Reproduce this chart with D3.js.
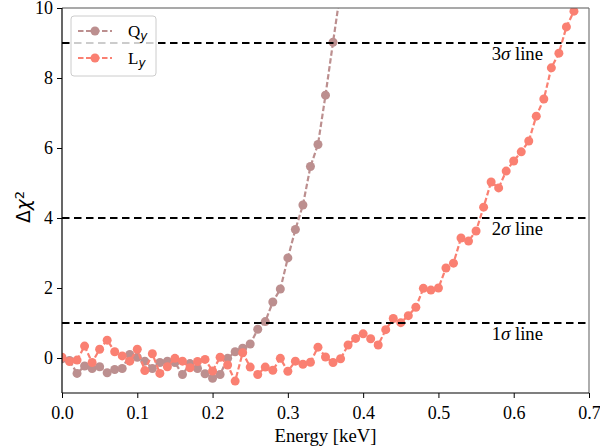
<!DOCTYPE html>
<html>
<head>
<meta charset="utf-8">
<script src="https://cdn.jsdelivr.net/npm/d3@7"></script>
<style>
  body { margin: 0; background: #fff; }
  svg { display: block; }
  .serif { font-family: "Liberation Serif", "Times New Roman", "DejaVu Serif", serif; font-size: 18.7px; }
  .sans { font-family: "DejaVu Sans", sans-serif; }
</style>
</head>
<body>
<svg width="600" height="447"></svg>
<script>
// Datos (energía en keV, Δχ²)
const energiaQ = d3.range(0, 38).map(i => +(i * 0.01).toFixed(2));
const chiQ = [
  -0.02, -0.07, -0.44, -0.23, -0.30, -0.25, -0.42, -0.33, -0.30, 0.10,
  0.02, -0.09, -0.30, -0.13, -0.09, -0.13, -0.47, -0.16, -0.30, -0.45,
  -0.58, -0.47, -0.01, 0.18, 0.28, 0.40, 0.82, 1.04, 1.60, 1.97,
  2.86, 3.67, 4.37, 5.47, 6.10, 7.51, 9.02, 10.50
];

const energiaL = d3.range(0, 69).map(i => +(i * 0.01).toFixed(2));
const chiL = [
  0.02, -0.10, -0.06, 0.34, -0.13, 0.25, 0.51, 0.18, 0.06, -0.09,
  0.25, -0.36, 0.12, -0.44, -0.25, -0.01, -0.09, -0.28, -0.10, -0.04,
  -0.37, 0.02, -0.20, -0.66, 0.15, -0.26, -0.47, -0.26, -0.35, -0.01,
  -0.38, -0.09, -0.18, -0.12, 0.31, 0.03, -0.13, -0.02, 0.37, 0.56,
  0.69, 0.55, 0.37, 0.81, 1.13, 1.01, 1.21, 1.45, 1.99, 1.94,
  2.00, 2.57, 2.71, 3.43, 3.34, 3.63, 4.31, 5.03, 4.86, 5.34,
  5.63, 5.89, 6.20, 6.91, 7.40, 8.29, 8.71, 9.46, 9.91
];

const xTicks = [0, 0.1, 0.2, 0.3, 0.4, 0.5, 0.6, 0.7];
const yTicks = [0, 2, 4, 6, 8, 10];
const sigmaNiveles = [1, 4, 9];
const sigmaEtiquetas = ["1", "2", "3"];

const series = [
  { nombre: "Q", x: energiaQ, y: chiQ, color: "#bc8f8f" },
  { nombre: "L", x: energiaL, y: chiL, color: "#fa8072" }
];

const svg = d3.select("svg");

const x = d3.scaleLinear().domain([0, 0.7]).range([62, 589]);
const y = d3.scaleLinear().domain([-1, 10]).range([393, 8]);

// Recorte del área de trazado
svg.append("defs").append("clipPath").attr("id", "area")
  .append("rect")
  .attr("x", x(0)).attr("y", y(10))
  .attr("width", x(0.7) - x(0)).attr("height", y(-1) - y(10));

const plot = svg.append("g").attr("clip-path", "url(#area)");

const linea = d3.line().x(d => x(d[0])).y(d => y(d[1]));

series.forEach(s => {
  const pts = s.x.map((e, i) => [e, s.y[i]]);
  plot.append("path")
    .datum(pts)
    .attr("d", linea)
    .attr("fill", "none")
    .attr("stroke", s.color)
    .attr("stroke-width", 2.2)
    .attr("stroke-dasharray", "5.5,2.5");
  plot.selectAll(null)
    .data(pts)
    .enter()
    .append("circle")
    .attr("cx", d => x(d[0]))
    .attr("cy", d => y(d[1]))
    .attr("r", 4.5)
    .attr("fill", s.color);
});

// Líneas de 1, 2 y 3 sigma
plot.selectAll(".sigma")
  .data(sigmaNiveles)
  .enter()
  .append("line")
  .attr("x1", x(0)).attr("x2", x(0.7))
  .attr("y1", d => y(d)).attr("y2", d => y(d))
  .attr("stroke", "#000")
  .attr("stroke-width", 2)
  .attr("stroke-dasharray", "7.5,4.5");

const etiquetas = svg.selectAll(".sigmaText")
  .data(sigmaNiveles)
  .enter()
  .append("text")
  .attr("class", "serif")
  .attr("x", 543)
  .attr("y", d => y(d) + 17)
  .attr("text-anchor", "end")
  .attr("fill", "#000");
etiquetas.append("tspan").text((d, i) => sigmaEtiquetas[i]);
etiquetas.append("tspan").style("font-style", "italic").text("σ");
etiquetas.append("tspan").text(" line");

// Ejes
const xAxis = svg.append("g")
  .attr("transform", `translate(0,${y(-1)})`)
  .call(d3.axisBottom(x).tickValues(xTicks).tickFormat(d3.format(".1f")).tickSize(5).tickSizeOuter(0));
const yAxis = svg.append("g")
  .attr("transform", `translate(${x(0)},0)`)
  .call(d3.axisLeft(y).tickValues(yTicks).tickSize(5).tickSizeOuter(0));

[xAxis, yAxis].forEach(g => {
  g.attr("font-family", null).attr("font-size", null);
  g.select(".domain").remove();
  g.selectAll("line").attr("stroke", "#000").attr("stroke-width", 1);
  g.selectAll("text").attr("class", "serif").attr("fill", "#000").style("font-size", "18px");
});
xAxis.selectAll("text").attr("y", 26).attr("dy", 0);
yAxis.selectAll("text").attr("x", -9).attr("dy", "0.33em");

// Marco
svg.append("line").attr("x1", x(0)).attr("x2", x(0.7)).attr("y1", y(10)).attr("y2", y(10))
  .attr("stroke", "#555").attr("stroke-width", 1.2);
svg.append("line").attr("x1", x(0.7)).attr("x2", x(0.7)).attr("y1", y(10)).attr("y2", y(-1))
  .attr("stroke", "#777").attr("stroke-width", 1.2);
svg.append("line").attr("x1", x(0)).attr("x2", x(0)).attr("y1", y(10)).attr("y2", y(-1))
  .attr("stroke", "#000").attr("stroke-width", 1.2);
svg.append("line").attr("x1", x(0)).attr("x2", x(0.7)).attr("y1", y(-1)).attr("y2", y(-1))
  .attr("stroke", "#000").attr("stroke-width", 1.2);

// Títulos de los ejes
svg.append("text")
  .attr("class", "serif")
  .attr("x", (x(0) + x(0.7)) / 2)
  .attr("y", 442)
  .attr("text-anchor", "middle")
  .text("Energy [keV]");

const yLabel = svg.append("text")
  .attr("class", "sans")
  .attr("transform", "translate(30,207) rotate(-90)")
  .attr("text-anchor", "middle")
  .style("font-size", "18.7px");
yLabel.append("tspan").text("Δ");
yLabel.append("tspan").style("font-style", "italic").text("χ");
yLabel.append("tspan").attr("dy", "-0.45em").style("font-size", "13px").text("2");

// Leyenda
const leyenda = svg.append("g");
leyenda.append("rect")
  .attr("x", 71).attr("y", 16)
  .attr("width", 85).attr("height", 60)
  .attr("rx", 3)
  .attr("fill", "#fff").attr("fill-opacity", 0.8)
  .attr("stroke", "#ccc").attr("stroke-width", 1);

series.forEach((s, i) => {
  const ly = 31 + i * 27;
  leyenda.append("line")
    .attr("x1", 78).attr("x2", 112)
    .attr("y1", ly).attr("y2", ly)
    .attr("stroke", s.color)
    .attr("stroke-width", 2.2)
    .attr("stroke-dasharray", "5.5,2.5");
  leyenda.append("circle").attr("cx", 95).attr("cy", ly).attr("r", 4.5).attr("fill", s.color);
  const t = leyenda.append("text")
    .attr("class", "serif")
    .style("font-size", "17px")
    .attr("x", 128).attr("y", ly + 6);
  t.append("tspan").text(s.nombre);
  t.append("tspan")
    .attr("class", "sans")
    .attr("dy", "0.25em")
    .style("font-style", "italic")
    .style("font-size", "12px")
    .text("y");
});
</script>
</body>
</html>
